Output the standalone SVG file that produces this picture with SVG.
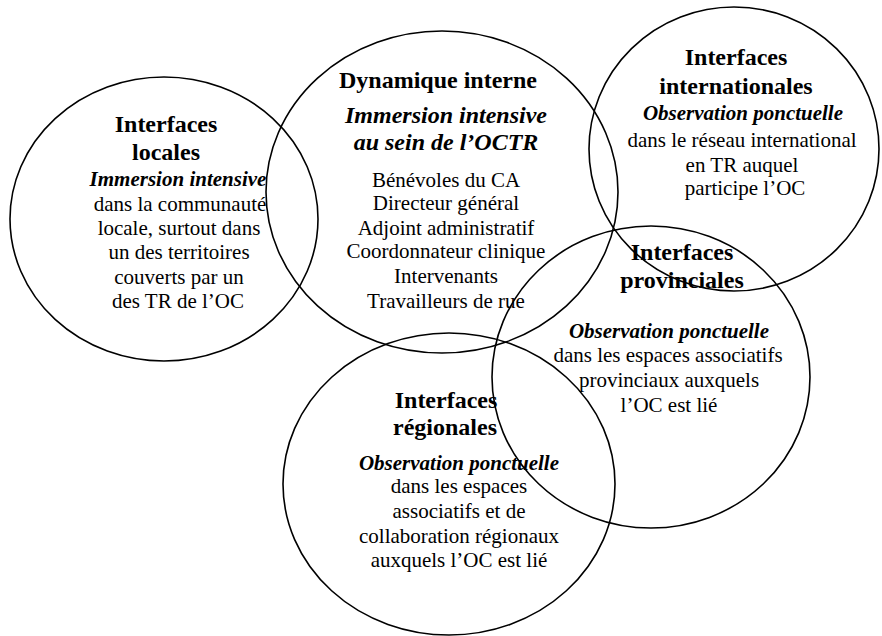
<svg xmlns="http://www.w3.org/2000/svg" width="882" height="636" viewBox="0 0 882 636">
<style>
.e{fill:none;stroke:#000;stroke-width:1.6}
text{font-family:"Liberation Serif","Times New Roman","DejaVu Serif",serif;fill:#000;text-anchor:middle}
.t{font-size:24px;font-weight:bold}
.i{font-size:21px;font-weight:bold;font-style:italic}
.i2{font-size:24px;font-weight:bold;font-style:italic}
.b{font-size:21px}
</style>
<rect width="882" height="636" fill="#fff"/>
<g id="locales">
<ellipse class="e" cx="164" cy="219" rx="154" ry="142"/>
<text class="t" x="166" y="132">Interfaces</text>
<text class="t" x="166" y="160">locales</text>
<text class="i" x="178" y="186">Immersion intensive</text>
<text class="b" x="180" y="211">dans la communauté</text>
<text class="b" x="179" y="235">locale, surtout dans</text>
<text class="b" x="179" y="259">un des territoires</text>
<text class="b" x="179" y="284">couverts par un</text>
<text class="b" x="178" y="308">des TR de l’OC</text>
</g>
<g id="dynamique">
<ellipse class="e" cx="442" cy="192" rx="176" ry="161"/>
<text class="t" x="438" y="88">Dynamique interne</text>
<text class="i2" x="446" y="123">Immersion intensive</text>
<text class="i2" x="446" y="150">au sein de l’OCTR</text>
<text class="b" x="446" y="187">Bénévoles du CA</text>
<text class="b" x="446" y="210">Directeur général</text>
<text class="b" x="446" y="235">Adjoint administratif</text>
<text class="b" x="446" y="258">Coordonnateur clinique</text>
<text class="b" x="446" y="283">Intervenants</text>
<text class="b" x="446" y="308">Travailleurs de rue</text>
</g>
<g id="internationales">
<ellipse class="e" cx="734" cy="149" rx="145" ry="142"/>
<text class="t" x="736" y="65">Interfaces</text>
<text class="t" x="736" y="94">internationales</text>
<text class="i" x="743" y="120">Observation ponctuelle</text>
<text class="b" x="742" y="147">dans le réseau international</text>
<text class="b" x="742" y="172">en TR auquel</text>
<text class="b" x="745" y="195">participe l’OC</text>
</g>
<g id="provinciales">
<ellipse class="e" cx="651" cy="377" rx="159" ry="151"/>
<text class="t" x="682" y="260">Interfaces</text>
<text class="t" x="682" y="288">provinciales</text>
<text class="i" x="669" y="338">Observation ponctuelle</text>
<text class="b" x="668" y="362">dans les espaces associatifs</text>
<text class="b" x="669" y="387">provinciaux auxquels</text>
<text class="b" x="669" y="412">l’OC est lié</text>
</g>
<g id="regionales">
<ellipse class="e" cx="449" cy="484" rx="166" ry="151"/>
<text class="t" x="446" y="408">Interfaces</text>
<text class="t" x="445" y="435">régionales</text>
<text class="i" x="459" y="470">Observation ponctuelle</text>
<text class="b" x="459" y="493">dans les espaces</text>
<text class="b" x="459" y="518">associatifs et de</text>
<text class="b" x="459" y="543">collaboration régionaux</text>
<text class="b" x="459" y="567">auxquels l’OC est lié</text>
</g>
<g id="connectors"/>
</svg>
